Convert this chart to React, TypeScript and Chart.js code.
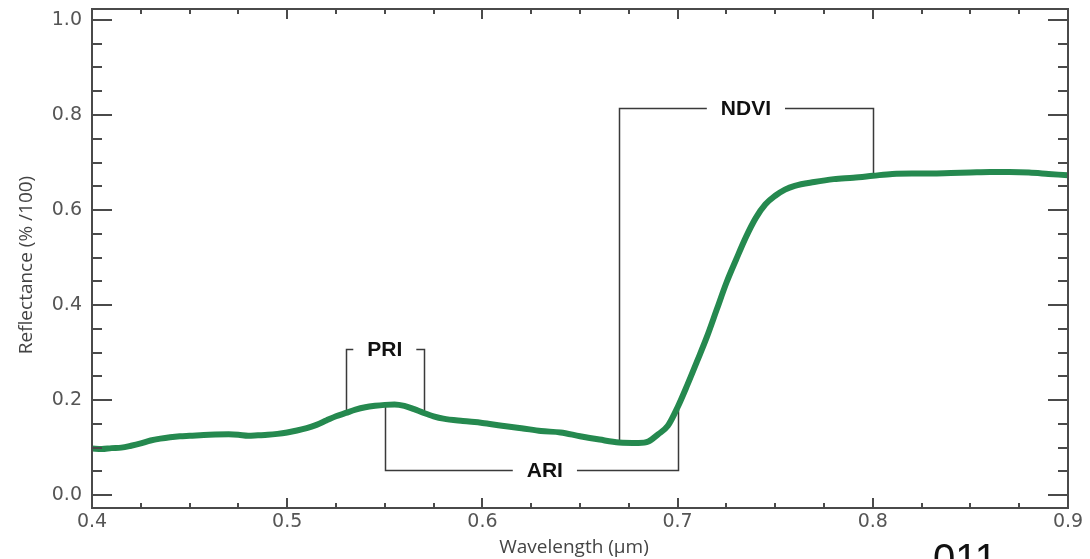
import React, { useEffect, useRef } from "react";
import { Chart, registerables } from "chart.js";

Chart.register(...registerables);

const wavelengths = [
  0.4, 0.405, 0.41, 0.415, 0.42, 0.425, 0.43, 0.435, 0.44, 0.445, 0.45, 0.46, 0.47, 0.475, 0.48, 0.485, 0.49,
  0.495, 0.5, 0.505, 0.51, 0.515, 0.52, 0.525, 0.53, 0.535, 0.54, 0.545, 0.55, 0.555, 0.56, 0.565, 0.57,
  0.575, 0.58, 0.59, 0.6, 0.61, 0.62, 0.63, 0.64, 0.65, 0.66, 0.67, 0.68, 0.685, 0.69, 0.695, 0.7, 0.705,
  0.71, 0.715, 0.72, 0.725, 0.73, 0.735, 0.74, 0.745, 0.75, 0.755, 0.76, 0.77, 0.78, 0.79, 0.8, 0.81,
  0.82, 0.83, 0.84, 0.85, 0.86, 0.87, 0.88, 0.89, 0.9,
];
const reflectance = [
  0.098, 0.097, 0.099, 0.1, 0.104, 0.109, 0.115, 0.119, 0.122, 0.124, 0.125, 0.127, 0.128, 0.127, 0.125,
  0.126, 0.127, 0.129, 0.132, 0.136, 0.141, 0.148, 0.157, 0.166, 0.173, 0.18, 0.185, 0.188, 0.19, 0.191,
  0.188, 0.181, 0.173, 0.166, 0.161, 0.156, 0.152, 0.146, 0.141, 0.135, 0.132, 0.124, 0.117, 0.111, 0.11,
  0.113, 0.128, 0.146, 0.185, 0.232, 0.282, 0.333, 0.39, 0.447, 0.496, 0.543, 0.583, 0.612, 0.63, 0.643,
  0.651, 0.659, 0.665, 0.668, 0.672, 0.676, 0.677, 0.677, 0.678, 0.679, 0.68, 0.68, 0.679, 0.676, 0.673,
];

const xTicks = [0.4, 0.5, 0.6, 0.7, 0.8, 0.9];
const xMinorTicks = [0.425, 0.45, 0.475, 0.525, 0.55, 0.575, 0.625, 0.65, 0.675, 0.725, 0.75, 0.775, 0.825, 0.85, 0.875];
const yTicks = [0, 0.2, 0.4, 0.6, 0.8, 1.0];
const yMinorTicks = [0.05, 0.1, 0.15, 0.25, 0.3, 0.35, 0.45, 0.5, 0.55, 0.65, 0.7, 0.75, 0.85, 0.9, 0.95];

const bracketLabels = ["PRI", "ARI", "NDVI"];
const bracketStart = [0.53, 0.55, 0.67];
const bracketEnd = [0.57, 0.7, 0.8];
const bracketLevel = [0.307, 0.053, 0.815];
const bracketLabelX = [0.55, 0.632, 0.735];

const xTitle = "Wavelength (µm)";
const yTitle = "Reflectance (% /100)";
const cornerText = "011";

function curveAt(w: number): number {
  for (let i = 0; i < wavelengths.length - 1; i++) {
    if (w >= wavelengths[i] && w <= wavelengths[i + 1]) {
      const t = (w - wavelengths[i]) / (wavelengths[i + 1] - wavelengths[i]);
      return reflectance[i] + t * (reflectance[i + 1] - reflectance[i]);
    }
  }
  return reflectance[reflectance.length - 1];
}

const framePlugin = {
  id: "framePlugin",
  beforeDatasetsDraw(chart: any) {
    const ctx = chart.ctx;
    const xs = chart.scales.x;
    const ys = chart.scales.y;
    ctx.save();
    ctx.strokeStyle = "#3a3a3a";
    ctx.lineWidth = 1.5;
    ctx.font = "bold 21px 'Liberation Sans', Arial, sans-serif";
    ctx.textAlign = "center";
    ctx.textBaseline = "middle";
    for (let i = 0; i < bracketLabels.length; i++) {
      const x0 = Math.round(xs.getPixelForValue(bracketStart[i])) + 0.5;
      const x1 = Math.round(xs.getPixelForValue(bracketEnd[i])) + 0.5;
      const yl = Math.round(ys.getPixelForValue(bracketLevel[i])) + 0.5;
      const y0c = ys.getPixelForValue(curveAt(bracketStart[i]));
      const y1c = ys.getPixelForValue(curveAt(bracketEnd[i]));
      const lx = xs.getPixelForValue(bracketLabelX[i]);
      const tw = ctx.measureText(bracketLabels[i]).width;
      const gap = 14;
      ctx.beginPath();
      ctx.moveTo(x0, y0c);
      ctx.lineTo(x0, yl);
      ctx.lineTo(lx - tw / 2 - gap, yl);
      ctx.moveTo(lx + tw / 2 + gap, yl);
      ctx.lineTo(x1, yl);
      ctx.lineTo(x1, y1c);
      ctx.stroke();
      ctx.fillStyle = "#111";
      ctx.fillText(bracketLabels[i], lx, yl + 1);
    }
    ctx.restore();
  },
  afterDraw(chart: any) {
    const ctx = chart.ctx;
    const xs = chart.scales.x;
    const ys = chart.scales.y;
    const a = chart.chartArea;
    ctx.save();
    ctx.strokeStyle = "#4a4a4a";
    ctx.lineWidth = 2;
    ctx.strokeRect(a.left, a.top, a.right - a.left, a.bottom - a.top);
    ctx.beginPath();
    for (const v of yTicks) {
      const y = Math.round(ys.getPixelForValue(v));
      ctx.moveTo(a.left, y);
      ctx.lineTo(a.left + 20, y);
      ctx.moveTo(a.right, y);
      ctx.lineTo(a.right - 20, y);
    }
    for (const v of yMinorTicks) {
      const y = Math.round(ys.getPixelForValue(v));
      ctx.moveTo(a.left, y);
      ctx.lineTo(a.left + 10, y);
      ctx.moveTo(a.right, y);
      ctx.lineTo(a.right - 10, y);
    }
    for (const v of xTicks) {
      const x = Math.round(xs.getPixelForValue(v));
      ctx.moveTo(x, a.bottom);
      ctx.lineTo(x, a.bottom - 10);
      ctx.moveTo(x, a.top);
      ctx.lineTo(x, a.top + 10);
    }
    for (const v of xMinorTicks) {
      const x = Math.round(xs.getPixelForValue(v));
      ctx.moveTo(x, a.bottom);
      ctx.lineTo(x, a.bottom - 5);
      ctx.moveTo(x, a.top);
      ctx.lineTo(x, a.top + 5);
    }
    ctx.stroke();

    ctx.fillStyle = "#444";
    ctx.font = "19px 'Open Sans', sans-serif";
    ctx.textAlign = "center";
    ctx.textBaseline = "middle";
    ctx.fillText(xTitle, 574, 548);
    ctx.save();
    ctx.translate(27, 265);
    ctx.rotate(-Math.PI / 2);
    ctx.fillText(yTitle, 0, 0);
    ctx.restore();

    ctx.fillStyle = "#111";
    ctx.font = "40px 'Liberation Sans', Arial, sans-serif";
    ctx.textBaseline = "alphabetic";
    ctx.fillText(cornerText, 965, 572);
    ctx.restore();
  },
};

export default function App() {
  const ref = useRef<HTMLCanvasElement>(null);
  useEffect(() => {
    if (!ref.current) return;
    const chart = new Chart(ref.current, {
      type: "line",
      data: {
        datasets: [
          {
            data: wavelengths.map((w, i) => ({ x: w, y: reflectance[i] })),
            borderColor: "#25894f",
            borderWidth: 6,
            pointRadius: 0,
            cubicInterpolationMode: "monotone",
            fill: false,
          },
        ],
      },
      options: {
        animation: false,
        responsive: false,
        devicePixelRatio: 1,
        layout: { padding: { top: 9, right: 22, left: 0, bottom: 0 } },
        plugins: { legend: { display: false }, tooltip: { enabled: false } },
        scales: {
          x: {
            type: "linear",
            min: 0.4,
            max: 0.9,
            afterBuildTicks: (s: any) => {
              s.ticks = xTicks.map((v) => ({ value: v }));
            },
            afterFit: (s: any) => {
              s.height = 51;
              s.paddingLeft = 0;
              s.paddingRight = 0;
            },
            grid: { display: false, drawTicks: false },
            border: { display: false },
            ticks: {
              padding: 3,
              maxRotation: 0,
              color: "#555",
              font: { family: "'DejaVu Sans', sans-serif", size: 19 },
              callback: (v: any) => Number(v).toFixed(1),
            },
          },
          y: {
            type: "linear",
            min: -0.027,
            max: 1.023,
            afterBuildTicks: (s: any) => {
              s.ticks = yTicks.map((v) => ({ value: v }));
            },
            afterFit: (s: any) => {
              s.width = 92;
              s.paddingTop = 0;
              s.paddingBottom = 0;
            },
            grid: { display: false, drawTicks: false },
            border: { display: false },
            ticks: {
              padding: 10,
              color: "#555",
              font: { family: "'DejaVu Sans', sans-serif", size: 19 },
              callback: (v: any) => Number(v).toFixed(1),
            },
          },
        },
      },
      plugins: [framePlugin],
    } as any);
    return () => chart.destroy();
  }, []);
  return (
    <div style={{ position: "fixed", left: 0, top: 0, width: 1090, height: 559, background: "#fff" }}>
      <canvas ref={ref} width={1090} height={559} style={{ display: "block" }} />
    </div>
  );
}
